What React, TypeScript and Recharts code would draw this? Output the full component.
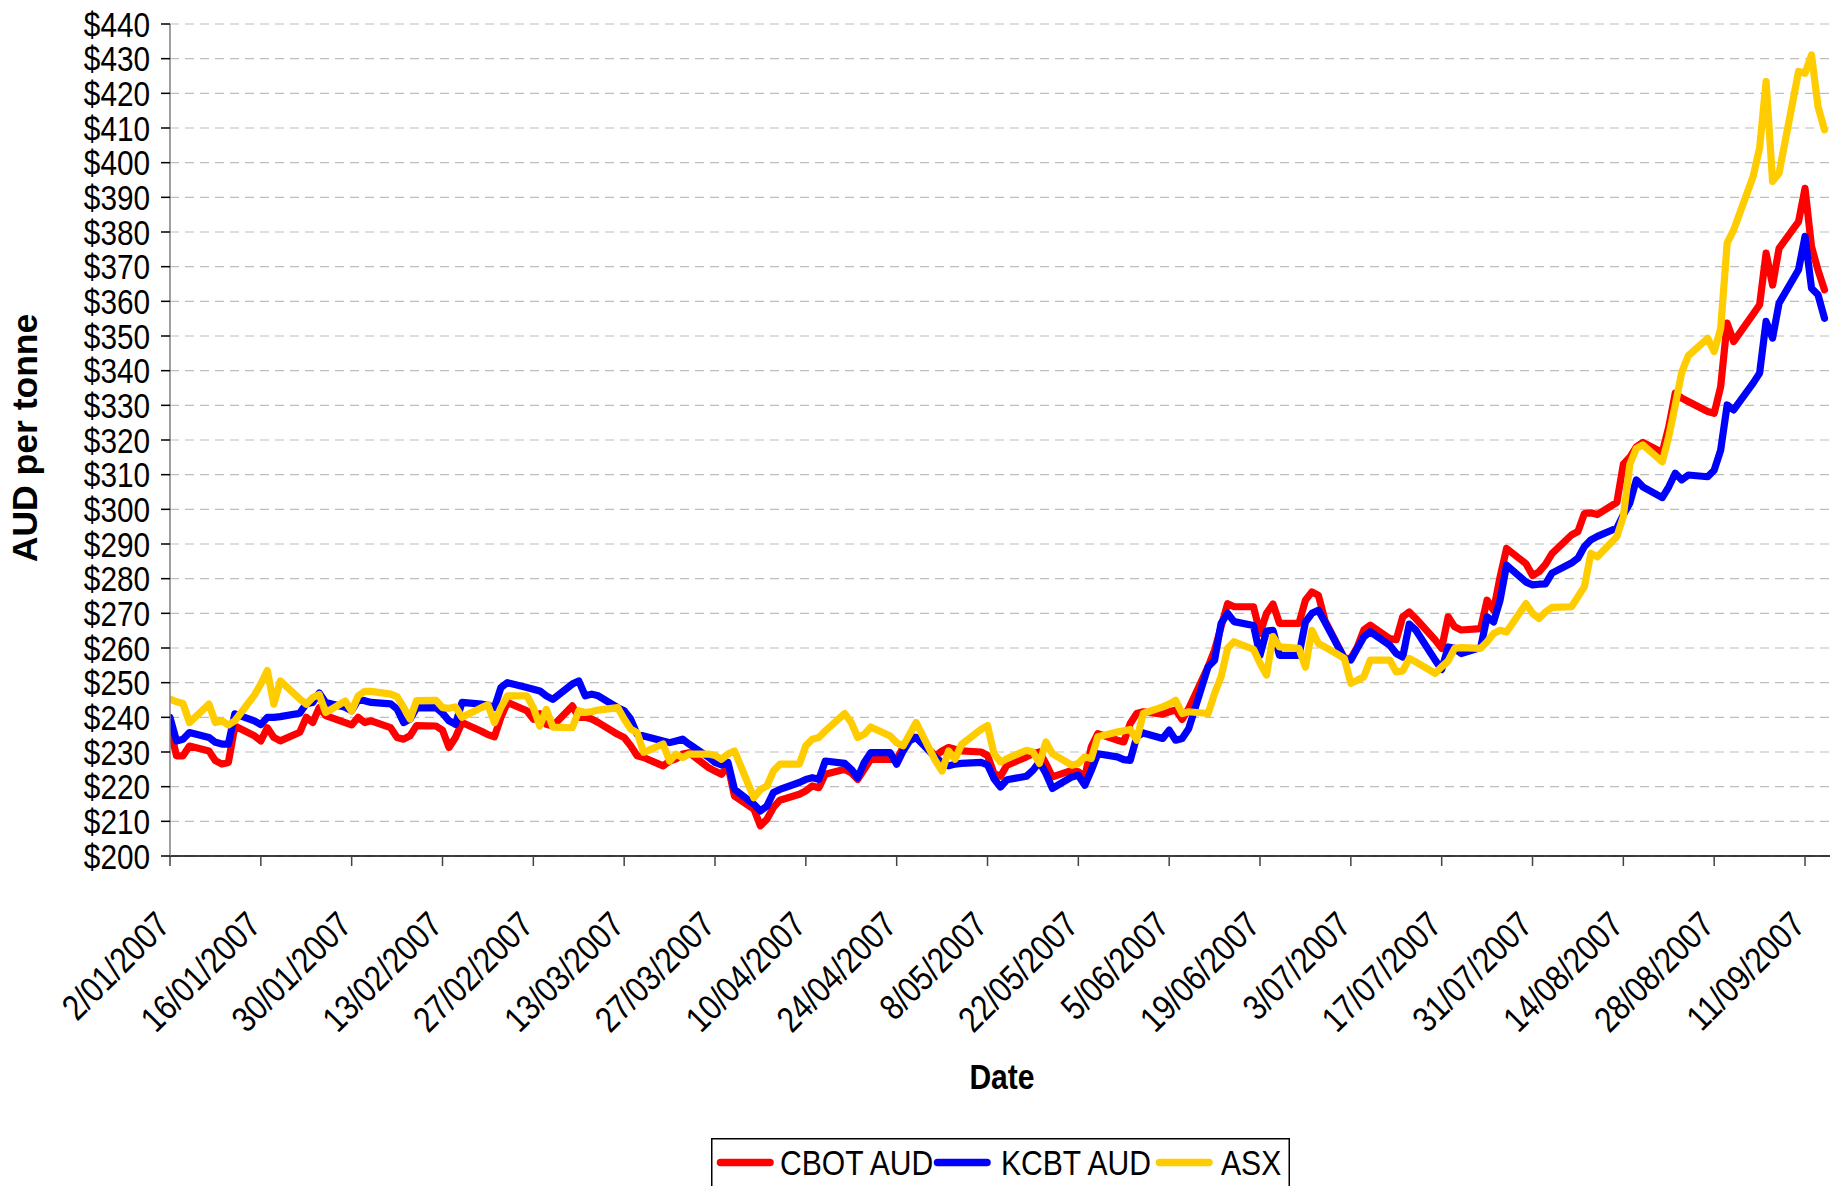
import React from 'react';
import { LineChart, Line, XAxis, YAxis, CartesianGrid, Legend } from 'recharts';

// calendar-day offset from 2 Jan 2007 of each trading day
const days = [
  0, 1, 2, 3, 6, 7, 8, 9, 10, 13, 14, 15, 16, 17, 20, 21, 22, 23, 24, 27, 28, 29, 30, 31,
  34, 35, 36, 37, 38, 41, 42, 43, 44, 45, 48, 49, 50, 51, 52, 55, 56, 57, 58, 59, 62, 63, 64, 65, 66,
  69, 70, 71, 72, 73, 76, 77, 78, 79, 80, 83, 84, 85, 86, 87, 90, 91, 92, 93, 94, 97, 98, 99, 100, 101,
  104, 105, 106, 107, 108, 111, 112, 113, 114, 115, 118, 119, 120, 121, 122, 125, 126, 127, 128, 129,
  132, 133, 134, 135, 136, 139, 140, 141, 142, 143, 146, 147, 148, 149, 150, 153, 154, 155, 156, 157,
  160, 161, 162, 163, 164, 167, 168, 169, 170, 171, 174, 175, 176, 177, 178, 181, 182, 183, 184, 185,
  188, 189, 190, 191, 192, 195, 196, 197, 198, 199, 202, 203, 204, 205, 206, 209, 210, 211, 212, 213,
  216, 217, 218, 219, 220, 223, 224, 225, 226, 227, 230, 231, 232, 233, 234, 237, 238, 239, 240, 241,
  244, 245, 246, 247, 248, 251, 252, 253, 254, 255,
];

const cbotAud = [
  237, 228.9, 228.9, 231.7, 230.3, 227.5, 226.5, 227, 237.5, 234.7, 233.2, 237, 234.2, 233.2, 235.7, 240,
  238.5, 242.8, 240.5, 238.5, 237.8, 240, 238.5, 239, 237, 234.2, 233.7, 234.7, 237.6, 237.5, 236.3, 231.3,
  234.2, 238.5, 236, 235, 234.4, 240, 244.3, 241.9, 239.5, 241, 238, 237.5, 243.3, 240, 240, 239.5, 238.5,
  235.1, 234.2, 231.8, 228.9, 228.4, 226, 227.4, 228, 229.4, 229.8, 225.5, 224.5, 223.6, 226, 217.3,
  213.5, 208.7, 210.6, 214, 216.1, 217.8, 218.8, 220.2, 219.7, 223.6, 225, 224, 222.1, 225, 227.9,
  227.9, 227.9, 231.3, 234.6, 234.2, 228.9, 230.3, 231.3, 230.8, 230.3, 230, 229, 223.8, 223, 226.2,
  228.6, 229.5, 230, 226.7, 222.8, 224.7, 224.3, 222.8, 231.5, 235.3, 233.4, 232.9, 238.2, 241.1, 241.6,
  240.9, 241.6, 242.1, 239.4, 242.5, 254.6, 259.4, 266.1, 272.8, 271.9, 271.9, 264.2, 270, 272.7, 267.1,
  267.1, 273.8, 276.2, 275.2, 268, 257, 257, 260.3, 265.2, 266.6, 262.7, 262.4, 269, 270.4, 268.5,
  262.3, 259.9, 269, 266.1, 265.2, 265.6, 273.8, 270.9, 280.5, 288.7, 284.3, 280.9, 282, 284.1, 287.2,
  292.6, 293.6, 298.8, 299, 298.5, 302, 313, 315, 318, 319.3, 316.4, 323.8, 333.5, 332.1, 331.1,
  328.2, 327.7, 335.4, 353.7, 348.4, 356.3, 359, 373.9, 364.7, 375.3, 383, 392.6, 375.8, 369, 363.3,
];

const kcbtAud = [
  240, 233.2, 233.7, 235.6, 234.2, 232.8, 232.3, 232.3, 241, 239, 237.9, 240, 240, 240.2, 241.2, 243.9,
  244.3, 247, 244.3, 242.9, 241.9, 245, 244.8, 244.3, 243.9, 242.4, 238.5, 239.5, 242.7, 242.8, 241.2, 239,
  238, 244.3, 243.8, 243.5, 242.8, 248.6, 250, 248.6, 248.1, 247.6, 246.2, 245.2, 249.6, 250.5, 246.2, 246.7, 246.2,
  242.8, 241.9, 239.5, 235.1, 234.6, 233.2, 232.7, 233.2, 233.7, 232.3, 228.5, 227, 226.3, 227, 219.2,
  214.9, 213, 214.4, 218.3, 219.2, 221.2, 222.1, 222.6, 222.1, 227.4, 226.7, 225, 222.6, 227, 229.8,
  229.8, 226.5, 230.3, 233.2, 234.2, 228.4, 227, 226, 226.5, 226.7, 227, 226.3, 222.3, 219.9, 222,
  223, 224.7, 227.1, 223.8, 219.5, 222.8, 223.3, 220.4, 224.7, 229.5, 228.6, 227.8, 227.6, 234.4, 235.5,
  233.9, 236.3, 233.4, 233.9, 236.7, 254.6, 256.5, 267.1, 270, 267.6, 266.5, 257.9, 264.9, 265.1, 257.9,
  257.9, 267.5, 270, 270.9, 267.5, 257, 256.5, 259.9, 263.2, 264.7, 260.8, 258.4, 257.4, 266.9, 265.2,
  256.5, 253.8, 260.3, 259.9, 258.4, 260.1, 269, 267.5, 273.8, 283.9, 279, 278.2, 278.4, 278.5, 281.6,
  284.5, 285.9, 289.3, 291.2, 292.2, 294.6, 298.4, 301.8, 308.5, 306.5, 303.4, 306.5, 310.4, 308.5, 309.9,
  309.4, 311.3, 317.1, 330.1, 328.7, 336.4, 339.3, 354.2, 349.4, 359.5, 369.1, 378.7, 363.8, 361.9, 355.1,
];

const asx = [
  245.3, 244.5, 244, 238.5, 243.8, 238.5, 239, 237.8, 239, 246.4, 249.6, 253.5, 243.8, 250.5, 245.3, 243.8,
  245.7, 246.6, 241.4, 244.7, 241.8, 246.2, 247.5, 247.5, 246.7, 246, 242.9, 239.5, 244.8, 244.9, 242.8, 242.6,
  243, 240, 242.8, 243.6, 238.5, 242.8, 246.2, 246.2, 242.8, 237.5, 242.3, 237.2, 237, 241.9, 241.4, 241.7, 242.1,
  242.8, 239.5, 236.6, 235.6, 229.9, 232.3, 227.4, 229.4, 228.4, 229.4, 229.4, 229, 227.9, 229.4, 230.3,
  216.8, 219.2, 220.2, 224.5, 226.5, 226.5, 231.8, 233.7, 234.2, 236.1, 241.1, 238.5, 234.2, 235.1, 237.2,
  234.6, 232.7, 231.8, 235.1, 238.5, 227.4, 224.5, 230.3, 227.9, 232.2, 236.5, 237.6, 229.5, 227.1, 228.1,
  230.5, 230, 226.7, 232.9, 229.5, 226.2, 226.7, 228.6, 228.1, 234.4, 235.8, 236.1, 236.5, 233.4, 241.1,
  243, 243.8, 244.9, 241.1, 241.6, 241.1, 246.9, 251.7, 259.9, 261.8, 259.6, 255.6, 252.2, 263.3, 260.3,
  259.9, 254.5, 265.1, 261.3, 260.3, 257, 249.8, 250.7, 251.7, 256.5, 256.5, 253.1, 253.4, 257, 256,
  252.7, 254.6, 256.3, 259.9, 260.1, 259.9, 261.8, 264.2, 265.1, 264.6, 272.8, 270, 268.5, 270.4, 271.7,
  271.9, 274.8, 277.7, 287.3, 286.3, 292.1, 298, 313, 317.6, 318.6, 313.7, 321, 330.1, 339.5, 344.3,
  349.3, 345.5, 352.2, 376.8, 380.6, 396, 404.2, 423.4, 394.6, 397, 426.3, 425.8, 431.1, 416.2, 409.5,
];

const tickDays = [0, 14, 28, 42, 56, 70, 84, 98, 112, 126, 140, 154, 168, 182, 196, 210, 224, 238, 252];
const tickLabels = [
  '2/01/2007', '16/01/2007', '30/01/2007', '13/02/2007', '27/02/2007', '13/03/2007', '27/03/2007',
  '10/04/2007', '24/04/2007', '8/05/2007', '22/05/2007', '5/06/2007', '19/06/2007', '3/07/2007',
  '17/07/2007', '31/07/2007', '14/08/2007', '28/08/2007', '11/09/2007',
];
const yTicks = [200, 210, 220, 230, 240, 250, 260, 270, 280, 290, 300, 310, 320, 330, 340, 350, 360, 370, 380, 390, 400, 410, 420, 430, 440];

const seriesNames = ['CBOT AUD', 'KCBT AUD', 'ASX'];
const seriesColors = ['#FF0000', '#0000FF', '#FFCC00'];

const data = days.map((d, i) => ({ d, cbot: cbotAud[i], kcbt: kcbtAud[i], asx: asx[i] }));

const FONT = '"Liberation Sans", Arial, Helvetica, sans-serif';
const SQ = 0.85;

const YTick = (props: any) => {
  const { x, y, payload } = props;
  return (
    <text transform={`translate(${x},${y}) scale(${SQ},1)`} textAnchor="end" dy="0.36em"
      fontSize={35} fontFamily={FONT} fill="#000">
      {'$' + payload.value}
    </text>
  );
};

const XTick = (props: any) => {
  const { x, y, payload } = props;
  const idx = tickDays.indexOf(payload.value);
  return (
    <text transform={`translate(${x + 2},${y}) rotate(-45) scale(0.84,1)`} textAnchor="end"
      fontSize={36} fontFamily={FONT} fill="#000">
      {tickLabels[idx]}
    </text>
  );
};

const YTitle = () => (
  <text transform={`translate(37,438) rotate(-90)`} textAnchor="middle" fontSize={35.5}
    fontWeight="bold" fontFamily={FONT} fill="#000">
    AUD per tonne
  </text>
);

const XTitle = () => (
  <text transform={`translate(1002,1089) scale(0.86,1)`} textAnchor="middle" fontSize={35}
    fontWeight="bold" fontFamily={FONT} fill="#000">
    Date
  </text>
);

const legendItems = [
  { lineX: 6, textX: 69 },
  { lineX: 223, textX: 290 },
  { lineX: 445, textX: 510 },
];

const LegendBox = () => (
  <svg width={579} height={70} style={{ display: 'block' }}>
    <rect x={0.75} y={0.75} width={577.5} height={80} fill="#fff" stroke="#000" strokeWidth={1.5} />
    {seriesNames.map((name, i) => (
      <g key={name}>
        <line x1={legendItems[i].lineX + 3.5} x2={legendItems[i].lineX + 53} y1={24.5} y2={24.5}
          stroke={seriesColors[i]} strokeWidth={7.5} strokeLinecap="round" />
        <text transform={`translate(${legendItems[i].textX},24.5) scale(0.86,1)`} dy="0.36em"
          fontSize={35} fontFamily={FONT} fill="#000">
          {name}
        </text>
      </g>
    ))}
  </svg>
);

export default function App() {
  return (
    <div style={{ position: 'absolute', left: 0, top: 0, width: 1830, height: 1186, overflow: 'hidden', background: '#fff' }}>
      <LineChart width={1830} height={1186} data={data} margin={{ top: 24, right: 0, bottom: 0, left: 0 }}>
        <CartesianGrid horizontal vertical={false} stroke="#BDBDBD" strokeWidth={1.2} strokeDasharray="9 6" />
        <XAxis type="number" dataKey="d" domain={[0, 255.85]} ticks={tickDays} interval={0} allowDataOverflow
          height={330} tickSize={10} tickMargin={61} tick={(p: any) => <XTick {...p} />}
          axisLine={{ stroke: '#000', strokeWidth: 1.5 }} tickLine={{ stroke: '#444', strokeWidth: 1.5 }}
          label={<XTitle />} />
        <YAxis type="number" domain={[200, 440]} ticks={yTicks} interval={0} allowDataOverflow width={170}
          tickSize={9} tickMargin={11} tick={(p: any) => <YTick {...p} />}
          axisLine={{ stroke: '#808080', strokeWidth: 1.5 }} tickLine={{ stroke: '#000', strokeWidth: 1.5 }}
          label={<YTitle />} />
        <Legend layout="horizontal" verticalAlign="middle" align="center"
          wrapperStyle={{ position: 'absolute', left: 711, top: 1138, width: 579, height: 70, margin: 0, padding: 0 }}
          content={() => <LegendBox />} />
        <Line type="linear" dataKey="cbot" name={seriesNames[0]} stroke={seriesColors[0]} strokeWidth={7.2}
          strokeLinejoin="round" strokeLinecap="round" dot={false} activeDot={false} isAnimationActive={false} />
        <Line type="linear" dataKey="kcbt" name={seriesNames[1]} stroke={seriesColors[1]} strokeWidth={7.2}
          strokeLinejoin="round" strokeLinecap="round" dot={false} activeDot={false} isAnimationActive={false} />
        <Line type="linear" dataKey="asx" name={seriesNames[2]} stroke={seriesColors[2]} strokeWidth={7.2}
          strokeLinejoin="round" strokeLinecap="round" dot={false} activeDot={false} isAnimationActive={false} />
      </LineChart>
    </div>
  );
}
